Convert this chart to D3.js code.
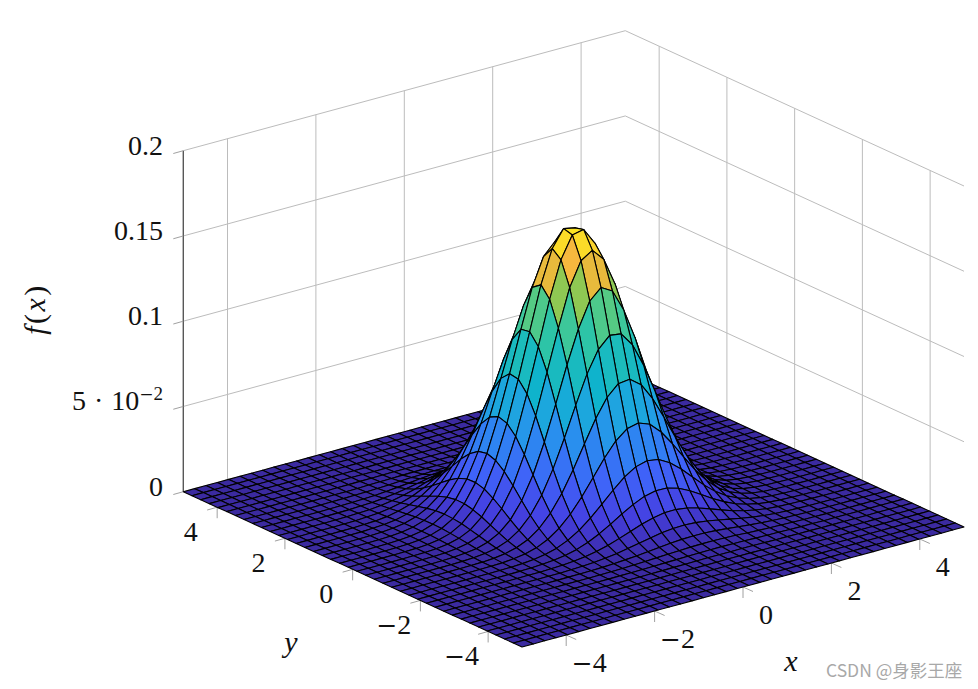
<!DOCTYPE html>
<html>
<head>
<meta charset="utf-8">
<style>
  body { margin: 0; background: #fff; }
  text { font-family: "Liberation Serif", serif; fill: #111; }
</style>
<script src="https://cdn.jsdelivr.net/npm/d3@7"></script>
</head>
<body>
<svg id="chart" width="978" height="689"></svg>
<script>
// sample positions along both floor axes
var gridValues = [-5,-4.744,-4.487,-4.231,-3.974,-3.718,-3.462,-3.205,-2.949,-2.692,-2.436,-2.179,-1.923,-1.667,-1.41,-1.154,-0.897,-0.641,-0.385,-0.128,0.128,0.385,0.641,0.897,1.154,1.41,1.667,1.923,2.179,2.436,2.692,2.949,3.205,3.462,3.718,3.974,4.231,4.487,4.744,5];

var xTicks = [-4,-2,0,2,4];
var yTicks = [-4,-2,0,2,4];
var zTicks = [0,0.05,0.1,0.15,0.2];
var floorTickLabels = ["4","2","0","2","4"];
var zTickLabels = ["0","5 \u00b7 10","0.1","0.15","0.2"];

// surface heights, in 1/10000 (row = x index, column = y index)
var zRows = [
[0,0,0,0,0,0,0,0,0,0,0,0,0,0,0,0,0,0,0,0,0,0,0,0,0,0,0,0,0,0,0,0,0,0,0,0,0,0,0,0],
[0,0,0,0,0,0,0,0,0,0,0,0,0,0,0,0,0,0,0,0,0,0,0,0,0,0,0,0,0,0,0,0,0,0,0,0,0,0,0,0],
[0,0,0,0,0,0,0,0,0,0,0,0,0,0,0,0,0,0,0,0,0,0,0,0,0,0,0,0,0,0,0,0,0,0,0,0,0,0,0,0],
[0,0,0,0,0,0,0,0,0,0,0,0,0,0,0,0,0,0,0,0,0,0,0,0,0,0,0,0,0,0,0,0,0,0,0,0,0,0,0,0],
[0,0,0,0,0,0,0,0,0,0,0,0,0,0,0,0,0,0,0,0,0,0,1,1,1,1,0,0,0,0,0,0,0,0,0,0,0,0,0,0],
[0,0,0,0,0,0,0,0,0,0,0,0,0,0,0,0,0,0,1,1,1,1,2,2,2,1,1,1,1,0,0,0,0,0,0,0,0,0,0,0],
[0,0,0,0,0,0,0,0,0,0,0,0,0,0,0,0,1,1,2,2,3,4,4,4,4,4,3,2,2,1,1,0,0,0,0,0,0,0,0,0],
[0,0,0,0,0,0,0,0,0,0,0,0,0,0,1,1,2,3,5,6,8,9,10,10,9,8,6,5,4,2,1,1,0,0,0,0,0,0,0,0],
[0,0,0,0,0,0,0,0,0,0,0,0,0,1,2,3,5,8,11,14,17,20,21,21,19,17,13,10,7,5,3,2,1,0,0,0,0,0,0,0],
[0,0,0,0,0,0,0,0,0,0,0,1,1,2,4,7,12,17,24,31,37,42,44,43,39,33,26,19,13,8,5,3,1,1,0,0,0,0,0,0],
[0,0,0,0,0,0,0,0,0,0,1,1,3,5,10,16,25,37,50,63,75,82,85,81,72,60,47,34,23,14,8,5,2,1,0,0,0,0,0,0],
[0,0,0,0,0,0,0,0,0,1,1,3,6,11,20,33,50,72,96,120,139,151,152,143,125,102,78,55,37,23,13,7,4,2,1,0,0,0,0,0],
[0,0,0,0,0,0,0,0,0,1,3,6,12,22,38,62,94,132,174,212,242,257,255,236,203,163,122,85,55,34,19,10,5,2,1,0,0,0,0,0],
[0,0,0,0,0,0,0,0,1,2,5,11,22,40,69,110,163,226,291,350,392,410,399,362,307,242,178,122,78,47,26,13,6,3,1,0,0,0,0,0],
[0,0,0,0,0,0,0,1,2,4,10,20,38,69,116,181,264,359,455,538,592,608,582,519,432,335,242,163,102,60,33,17,8,4,1,1,0,0,0,0],
[0,0,0,0,0,0,0,1,3,7,16,33,62,110,181,278,399,533,664,770,833,841,791,693,566,432,307,203,125,72,39,19,9,4,2,1,0,0,0,0],
[0,0,0,0,0,0,1,2,5,12,25,50,94,163,264,399,562,737,902,1028,1093,1084,1002,863,693,519,362,236,143,81,43,21,10,4,2,1,0,0,0,0],
[0,0,0,0,0,0,1,3,8,17,37,72,132,226,359,533,737,950,1142,1288,1350,1312,1183,1002,791,582,399,255,152,85,44,21,10,4,2,1,0,0,0,0],
[0,0,0,0,0,1,2,5,11,24,50,96,174,291,455,664,902,1142,1362,1502,1545,1475,1312,1084,841,608,410,257,151,82,42,20,9,4,1,0,0,0,0,0],
[0,0,0,0,0,1,2,6,14,31,63,120,212,350,538,770,1028,1288,1502,1630,1644,1545,1350,1093,833,592,392,242,139,75,37,17,8,3,1,0,0,0,0,0],
[0,0,0,0,0,1,3,8,17,37,75,139,242,392,592,833,1093,1350,1545,1644,1630,1502,1288,1028,770,538,350,212,120,63,31,14,6,2,1,0,0,0,0,0],
[0,0,0,0,0,1,4,9,20,42,82,151,257,410,608,841,1084,1312,1475,1545,1502,1362,1142,902,664,455,291,174,96,50,24,11,5,2,1,0,0,0,0,0],
[0,0,0,0,1,2,4,10,21,44,85,152,255,399,582,791,1002,1183,1312,1350,1288,1142,950,737,533,359,226,132,72,37,17,8,3,1,0,0,0,0,0,0],
[0,0,0,0,1,2,4,10,21,43,81,143,236,362,519,693,863,1002,1084,1093,1028,902,737,562,399,264,163,94,50,25,12,5,2,1,0,0,0,0,0,0],
[0,0,0,0,1,2,4,9,19,39,72,125,203,307,432,566,693,791,841,833,770,664,533,399,278,181,110,62,33,16,7,3,1,0,0,0,0,0,0,0],
[0,0,0,0,1,1,4,8,17,33,60,102,163,242,335,432,519,582,608,592,538,455,359,264,181,116,69,38,20,10,4,2,1,0,0,0,0,0,0,0],
[0,0,0,0,0,1,3,6,13,26,47,78,122,178,242,307,362,399,410,392,350,291,226,163,110,69,40,22,11,5,2,1,0,0,0,0,0,0,0,0],
[0,0,0,0,0,1,2,5,10,19,34,55,85,122,163,203,236,255,257,242,212,174,132,94,62,38,22,12,6,3,1,0,0,0,0,0,0,0,0,0],
[0,0,0,0,0,1,2,4,7,13,23,37,55,78,102,125,143,152,151,139,120,96,72,50,33,20,11,6,3,1,1,0,0,0,0,0,0,0,0,0],
[0,0,0,0,0,0,1,2,5,8,14,23,34,47,60,72,81,85,82,75,63,50,37,25,16,10,5,3,1,1,0,0,0,0,0,0,0,0,0,0],
[0,0,0,0,0,0,1,1,3,5,8,13,19,26,33,39,43,44,42,37,31,24,17,12,7,4,2,1,1,0,0,0,0,0,0,0,0,0,0,0],
[0,0,0,0,0,0,0,1,2,3,5,7,10,13,17,19,21,21,20,17,14,11,8,5,3,2,1,0,0,0,0,0,0,0,0,0,0,0,0,0],
[0,0,0,0,0,0,0,0,1,1,2,4,5,6,8,9,10,10,9,8,6,5,3,2,1,1,0,0,0,0,0,0,0,0,0,0,0,0,0,0],
[0,0,0,0,0,0,0,0,0,1,1,2,2,3,4,4,4,4,4,3,2,2,1,1,0,0,0,0,0,0,0,0,0,0,0,0,0,0,0,0],
[0,0,0,0,0,0,0,0,0,0,0,1,1,1,1,2,2,2,1,1,1,1,0,0,0,0,0,0,0,0,0,0,0,0,0,0,0,0,0,0],
[0,0,0,0,0,0,0,0,0,0,0,0,0,0,1,1,1,1,0,0,0,0,0,0,0,0,0,0,0,0,0,0,0,0,0,0,0,0,0,0],
[0,0,0,0,0,0,0,0,0,0,0,0,0,0,0,0,0,0,0,0,0,0,0,0,0,0,0,0,0,0,0,0,0,0,0,0,0,0,0,0],
[0,0,0,0,0,0,0,0,0,0,0,0,0,0,0,0,0,0,0,0,0,0,0,0,0,0,0,0,0,0,0,0,0,0,0,0,0,0,0,0],
[0,0,0,0,0,0,0,0,0,0,0,0,0,0,0,0,0,0,0,0,0,0,0,0,0,0,0,0,0,0,0,0,0,0,0,0,0,0,0,0],
[0,0,0,0,0,0,0,0,0,0,0,0,0,0,0,0,0,0,0,0,0,0,0,0,0,0,0,0,0,0,0,0,0,0,0,0,0,0,0,0]
];

// colormap stops (fraction of the height range -> colour)
var colorStops = [0,0.04,0.1,0.2,0.33,0.42,0.5,0.65,0.7,0.75,0.81,0.85,0.89,0.92,0.95,1];
var colorValues = ["#3b2aa0","#3f32bc","#4541e2","#3f63f8","#2a8cf0","#1ea5df","#0db2cf","#28c3ac","#3dc79a","#5ecb7b","#93c84f","#e0bc3a","#f6b73f","#f6b93d","#fbd92a","#fbe422"];

var svg = d3.select("#chart");

// oblique projection: the floor corner (x=-5, y=-5) sits at the bottom of the picture
var origin = [522, 647];
var xPx = d3.scaleLinear().domain([-5,5]).range([0,442]);
var xPy = d3.scaleLinear().domain([-5,5]).range([0,-120]);
var yPx = d3.scaleLinear().domain([-5,5]).range([0,-338.7]);
var yPy = d3.scaleLinear().domain([-5,5]).range([0,-155.3]);
var zPy = d3.scaleLinear().domain([0,0.2]).range([0,-341]);

function project(x, y, z) {
    return [origin[0] + xPx(x) + yPx(y), origin[1] + xPy(x) + yPy(y) + zPy(z)];
}

function segment(parent, a, b, color, width) {
    parent.append("line")
        .attr("x1", a[0]).attr("y1", a[1])
        .attr("x2", b[0]).attr("y2", b[1])
        .attr("stroke", color)
        .attr("stroke-width", width);
}

// the wider minus sign comes from DejaVu, closer to the one in the picture
function appendMinus(text, size) {
    text.append("tspan")
        .style("font-family", "'DejaVu Serif'")
        .attr("font-size", size)
        .text("\u2212");
}

// grid lines on the two back walls
var gridLayer = svg.append("g");
var gridColor = "#bcbcbc";
xTicks.forEach(function(x) {
    segment(gridLayer, project(x,5,0), project(x,5,0.2), gridColor, 1);
});
yTicks.forEach(function(y) {
    segment(gridLayer, project(5,y,0), project(5,y,0.2), gridColor, 1);
});
zTicks.forEach(function(z) {
    segment(gridLayer, project(-5,5,z), project(5,5,z), gridColor, 1);
    segment(gridLayer, project(5,5,z), project(5,-5,z), gridColor, 1);
});

// axis line and tick marks
var axisLayer = svg.append("g");
var tickColor = "#a0a0a0";
segment(axisLayer, project(-5,5,0), project(-5,5,0.2), "#585858", 1.4);
xTicks.forEach(function(x) {
    var p = project(x,-5,0);
    segment(axisLayer, p, [p[0], p[1] + 11], tickColor, 1);
    segment(axisLayer, p, [p[0] + 10, p[1] + 4.5], tickColor, 1);
});
yTicks.forEach(function(y) {
    var p = project(-5,y,0);
    segment(axisLayer, p, [p[0], p[1] + 11], tickColor, 1);
    segment(axisLayer, p, [p[0] - 10, p[1] + 2.8], tickColor, 1);
});
zTicks.forEach(function(z) {
    var p = project(-5,5,z);
    segment(axisLayer, p, [p[0] - 10, p[1] + 2.8], tickColor, 1);
});

// surface cells, painted from the back corner to the front corner
var color = d3.scaleLinear().domain(colorStops.map(function(t) { return t * 0.1644; })).range(colorValues);
var cells = [];
for (var i = gridValues.length - 2; i >= 0; i--) {
    for (var j = gridValues.length - 2; j >= 0; j--) {
        cells.push({i: i, j: j});
    }
}
function h(i, j) { return zRows[i][j] / 10000; }
var cellLine = d3.line();
svg.append("g").selectAll("path")
    .data(cells)
    .enter()
    .append("path")
    .attr("d", function(d) {
        var i = d.i, j = d.j;
        return cellLine([
            project(gridValues[i], gridValues[j], h(i,j)),
            project(gridValues[i+1], gridValues[j], h(i+1,j)),
            project(gridValues[i+1], gridValues[j+1], h(i+1,j+1)),
            project(gridValues[i], gridValues[j+1], h(i,j+1))
        ]) + "Z";
    })
    .attr("fill", function(d) {
        var i = d.i, j = d.j;
        return color((h(i,j) + h(i+1,j) + h(i+1,j+1) + h(i,j+1)) / 4);
    })
    .attr("stroke", "#000")
    .attr("stroke-width", 1.1)
    .attr("stroke-linejoin", "round");

// tick labels
var labelLayer = svg.append("g").attr("font-size", 28);
xTicks.forEach(function(x, k) {
    var p = project(x,-5,0);
    var t = labelLayer.append("text").attr("x", p[0] + 23).attr("y", p[1] + 36.5)
        .attr("text-anchor", "middle");
    if (x < 0) appendMinus(t, 25);
    t.append("tspan").text(floorTickLabels[k]);
});
yTicks.forEach(function(y, k) {
    var p = project(-5,y,0);
    var t = labelLayer.append("text").attr("x", p[0] - 26.5).attr("y", p[1] + 33.5)
        .attr("text-anchor", "middle");
    if (y < 0) appendMinus(t, 25);
    t.append("tspan").text(floorTickLabels[k]);
});
zTicks.forEach(function(z, k) {
    var p = project(-5,5,z);
    var t = labelLayer.append("text").attr("x", 163).attr("y", p[1] + 4)
        .attr("text-anchor", "end").text(zTickLabels[k]);
    if (k == 1) {
        t.attr("word-spacing", 1);
        t.append("tspan").attr("dy", -10).style("font-family", "'DejaVu Serif'").attr("font-size", 17).text("\u2212");
        t.append("tspan").attr("font-size", 19).text("2");
    }
});

// axis titles
var titleLayer = svg.append("g").attr("font-size", 30);
titleLayer.append("text").attr("x", 291).attr("y", 652)
    .attr("text-anchor", "middle").attr("font-style", "italic").text("y");
titleLayer.append("text").attr("x", 791).attr("y", 671)
    .attr("text-anchor", "middle").attr("font-style", "italic").text("x");
var fx = titleLayer.append("text")
    .attr("transform", "translate(45,309) rotate(-90)")
    .attr("text-anchor", "middle")
    .attr("letter-spacing", 2.5);
fx.append("tspan").attr("font-style", "italic").text("f");
fx.append("tspan").text("(");
fx.append("tspan").attr("font-style", "italic").text("x");
fx.append("tspan").text(")");

// watermark
svg.append("text")
    .attr("x", 826).attr("y", 677)
    .attr("font-size", 17.5)
    .style("font-family", "'Noto Sans CJK SC', 'Noto Sans', sans-serif")
    .style("fill", "#a8a8a8")
    .text("CSDN @\u8eab\u5f71\u738b\u5ea7");
</script>
</body>
</html>
